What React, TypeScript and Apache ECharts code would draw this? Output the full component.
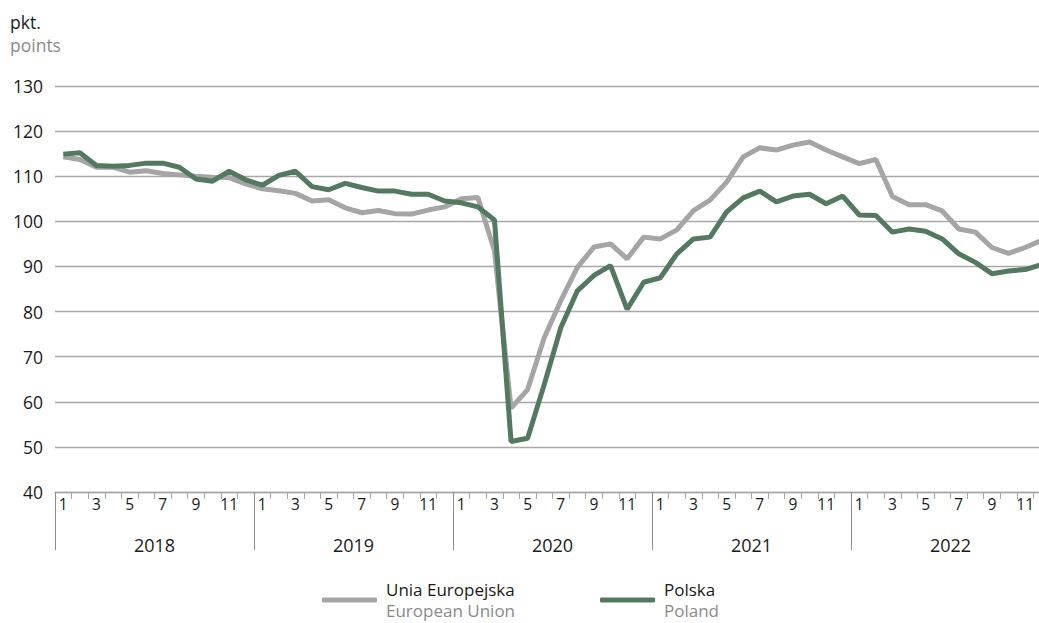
import React, { useEffect, useRef } from "react";
import * as echarts from "echarts";

const YEARS = ["2018", "2019", "2020", "2021", "2022"];
const MONTHS = ["1", "2", "3", "4", "5", "6", "7", "8", "9", "10", "11", "12"];
const Y_TICKS = [40, 50, 60, 70, 80, 90, 100, 110, 120, 130];

const EU_NAME = "Unia Europejska";
const EU_NAME_EN = "European Union";
const PL_NAME = "Polska";
const PL_NAME_EN = "Poland";

const EU_VALUES = [
  114.3, 113.7, 112.0, 112.0, 110.9, 111.2, 110.6, 110.3, 110.0, 109.8, 109.7, 108.3,
  107.2, 106.8, 106.2, 104.5, 104.8, 103.0, 101.9, 102.4, 101.7, 101.6, 102.5, 103.2,
  105.0, 105.3, 93.5, 58.6, 62.7, 74.2, 82.4, 89.8, 94.3, 95.0, 91.7, 96.5,
  96.1, 98.1, 102.4, 104.7, 108.7, 114.3, 116.3, 115.8, 116.9, 117.6, 115.8, 114.3,
  112.8, 113.7, 105.5, 103.7, 103.7, 102.3, 98.3, 97.6, 94.2, 92.9, 94.2, 95.8,
];

const PL_VALUES = [
  114.9, 115.2, 112.4, 112.2, 112.4, 112.9, 112.9, 112.0, 109.4, 108.9, 111.1, 109.2,
  108.0, 110.2, 111.1, 107.7, 107.0, 108.4, 107.5, 106.7, 106.7, 106.0, 106.0, 104.5,
  104.1, 103.2, 100.3, 51.2, 51.9, 63.8, 76.4, 84.6, 88.0, 90.2, 80.5, 86.5,
  87.5, 92.8, 96.1, 96.5, 102.1, 105.2, 106.7, 104.3, 105.6, 106.0, 103.9, 105.6,
  101.4, 101.3, 97.6, 98.3, 97.8, 96.1, 92.8, 90.9, 88.4, 89.0, 89.3, 90.4,
];

const FONT = "'Open Sans', 'Noto Sans', sans-serif";
const GRAY_LINE = "#a5a5a5";
const GREEN_LINE = "#537a60";
const GRID_COLOR = "#a8a8a8";
const TEXT = "#1a1a1a";
const SUBTEXT = "#8a8a8a";

export default function App() {
  const ref = useRef<HTMLDivElement>(null);

  useEffect(() => {
    if (!ref.current) return;
    const chart = echarts.init(ref.current, null, { renderer: "svg" });
    const monthCats: string[] = [];
    YEARS.forEach((y) => MONTHS.forEach((m) => monthCats.push(y + "-" + m)));

    const legendRich = {
      a: { color: TEXT, fontSize: 17, fontFamily: FONT, lineHeight: 21, padding: [0, 0, 0, 4] },
      b: { color: SUBTEXT, fontSize: 17, fontFamily: FONT, lineHeight: 21, padding: [0, 0, 0, 4] },
    };
    const legendFmt = (name: string) =>
      name === EU_NAME
        ? "{a|" + EU_NAME + "}\n{b|" + EU_NAME_EN + "}"
        : "{a|" + PL_NAME + "}\n{b|" + PL_NAME_EN + "}";

    const legendBase = {
      top: 581,
      padding: 0,
      icon: "roundRect",
      itemWidth: 55,
      itemHeight: 5,
      formatter: legendFmt,
      textStyle: { rich: legendRich },
      selectedMode: false,
    };

    chart.setOption({
      animation: false,
      textStyle: { fontFamily: FONT },
      grid: { left: 55, top: 86, width: 995, height: 406, containLabel: false },
      graphic: [
        {
          type: "text",
          left: 10,
          top: 13,
          style: { text: "pkt.", fill: TEXT, font: "17.5px " + FONT },
        },
        {
          type: "text",
          left: 10,
          top: 36,
          style: { text: "points", fill: SUBTEXT, font: "17.5px " + FONT },
        },
      ],
      legend: [
        { ...legendBase, data: [EU_NAME], left: 322 },
        { ...legendBase, data: [PL_NAME], left: 600 },
      ],
      xAxis: [
        {
          type: "category",
          data: monthCats,
          boundaryGap: true,
          position: "bottom",
          axisLine: { show: true, lineStyle: { color: GRID_COLOR, width: 1.3 } },
          axisTick: { show: true, interval: 0, length: 7, lineStyle: { color: GRID_COLOR, width: 1 } },
          axisLabel: {
            interval: 0,
            margin: 4,
            color: TEXT,
            fontSize: 15.5,
            fontFamily: FONT,
            formatter: (v: string) => {
              const m = Number(v.split("-")[1]);
              return m % 2 === 1 ? String(m) : "";
            },
          },
          splitLine: { show: false },
        },
        {
          type: "category",
          data: YEARS,
          boundaryGap: true,
          position: "bottom",
          axisLine: { show: false },
          axisTick: { show: true, interval: 0, length: 58, lineStyle: { color: "#8c8c8c", width: 1 } },
          axisLabel: { interval: 0, margin: 44, color: TEXT, fontSize: 18, fontFamily: FONT },
          splitLine: { show: false },
        },
      ],
      yAxis: {
        type: "value",
        min: Y_TICKS[0],
        max: Y_TICKS[Y_TICKS.length - 1],
        interval: 10,
        axisLine: { show: false },
        axisTick: { show: false },
        axisLabel: { color: TEXT, fontSize: 17.5, fontFamily: FONT, margin: 12 },
        splitLine: { show: true, lineStyle: { color: GRID_COLOR, width: 1.3 } },
      },
      series: [
        {
          name: EU_NAME,
          type: "line",
          xAxisIndex: 0,
          data: EU_VALUES,
          showSymbol: false,
          symbol: "none",
          itemStyle: { color: GRAY_LINE },
          lineStyle: { color: GRAY_LINE, width: 5 },
          z: 2,
        },
        {
          name: PL_NAME,
          type: "line",
          xAxisIndex: 0,
          data: PL_VALUES,
          showSymbol: false,
          symbol: "none",
          itemStyle: { color: GREEN_LINE },
          lineStyle: { color: GREEN_LINE, width: 5 },
          z: 3,
        },
      ],
    });
    return () => chart.dispose();
  }, []);

  return (
    <div
      style={{
        position: "fixed",
        left: 0,
        top: 0,
        width: 1039,
        height: 623,
        overflow: "hidden",
        background: "#fff",
      }}
    >
      <div ref={ref} style={{ width: 1052, height: 623 }} />
    </div>
  );
}
